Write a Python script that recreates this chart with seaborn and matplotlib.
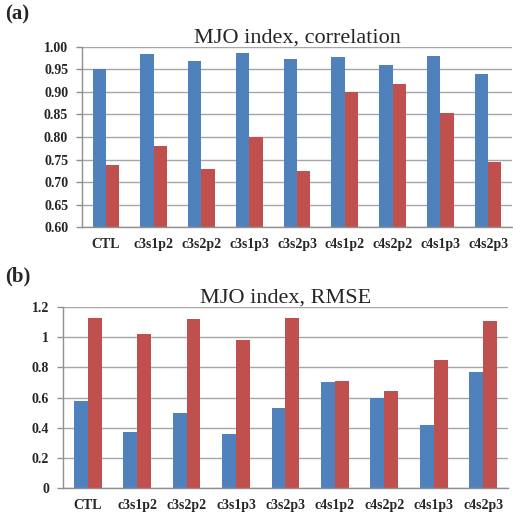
import pandas as pd
import matplotlib.pyplot as plt
import seaborn as sns
import numpy as np

# experiment names
cases = ['CTL', 'c3s1p2', 'c3s2p2', 'c3s1p3', 'c3s2p3', 'c4s1p2', 'c4s2p2', 'c4s1p3', 'c4s2p3']

# (a) correlation
corr_blue = [0.950, 0.984, 0.968, 0.986, 0.973, 0.978, 0.959, 0.979, 0.939]
corr_red  = [0.737, 0.779, 0.729, 0.800, 0.725, 0.900, 0.918, 0.854, 0.744]

# (b) RMSE
rmse_blue = [0.58, 0.37, 0.50, 0.36, 0.53, 0.705, 0.60, 0.42, 0.77]
rmse_red  = [1.13, 1.02, 1.12, 0.98, 1.125, 0.71, 0.645, 0.85, 1.105]

y_ticks_a = [0.60, 0.65, 0.70, 0.75, 0.80, 0.85, 0.90, 0.95, 1.00]
y_ticks_b = [0, 0.2, 0.4, 0.6, 0.8, 1, 1.2]
y_labels_b = ['0', '0.2', '0.4', '0.6', '0.8', '1', '1.2']

colors = ['#4F81BD', '#C0504D']

sns.set_style('white')
plt.rcParams['font.family'] = ['Liberation Serif', 'DejaVu Serif']


def long_df(blue, red):
    return pd.DataFrame({
        'case': cases * 2,
        'series': ['s1'] * len(cases) + ['s2'] * len(cases),
        'value': blue + red,
    })


def style_axis(ax, yticks, ylabels, ylim):
    ax.set_ylim(*ylim)
    ax.set_xlim(-0.5, len(cases) - 0.5)
    ax.set_yticks(yticks)
    ax.set_yticklabels(ylabels, fontsize=10, fontweight='bold')
    ax.set_xticks(range(len(cases)))
    ax.set_xticklabels(cases, fontsize=10, fontweight='bold')
    ax.set_xticks(np.arange(-0.5, len(cases)), minor=True)
    ax.tick_params(axis='x', which='major', length=0, pad=8)
    ax.tick_params(axis='x', which='minor', length=4, color='#909090', width=1)
    ax.tick_params(axis='y', length=4, color='#909090', width=1, pad=6, left=True)
    ax.yaxis.grid(True, color='#A6A6A6', linewidth=1)
    ax.set_axisbelow(True)
    for s in ['top', 'right']:
        ax.spines[s].set_visible(False)
    for s in ['left', 'bottom']:
        ax.spines[s].set_color('#909090')
        ax.spines[s].set_linewidth(1)
    ax.set_xlabel('')
    ax.set_ylabel('')


fig = plt.figure(figsize=(5.13, 5.14), dpi=100)

ax1 = fig.add_axes([0.160, 0.558, 0.838, 0.351])
sns.barplot(data=long_df(corr_blue, corr_red), x='case', y='value', hue='series',
            palette=colors, saturation=1, width=0.56, gap=0, linewidth=0,
            legend=False, ax=ax1)
style_axis(ax1, y_ticks_a, [f'{v:.2f}' for v in y_ticks_a], (0.6, 1.0))
ax1.set_title('MJO index, correlation', fontsize=16, pad=3)

ax2 = fig.add_axes([0.123, 0.0506, 0.867, 0.352])
sns.barplot(data=long_df(rmse_blue, rmse_red), x='case', y='value', hue='series',
            palette=colors, saturation=1, width=0.56, gap=0, linewidth=0,
            legend=False, ax=ax2)
style_axis(ax2, y_ticks_b, y_labels_b, (0, 1.2))
ax2.set_title('MJO index, RMSE', fontsize=16, pad=3)

fig.text(0.01, 0.972, '(a)', fontsize=15, fontweight='bold', va='center')
fig.text(0.01, 0.463, '(b)', fontsize=15, fontweight='bold', va='center')

fig.savefig('out.png', dpi=100)
